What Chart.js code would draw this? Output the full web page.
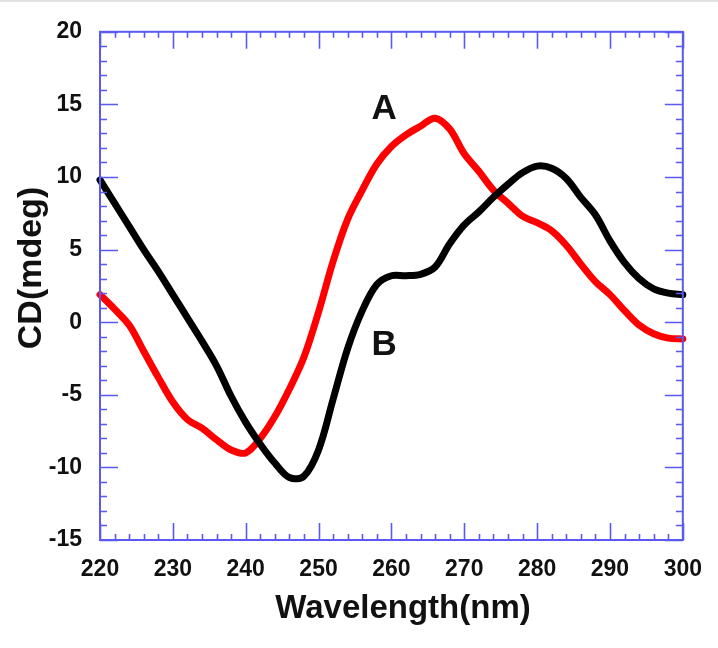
<!DOCTYPE html>
<html>
<head>
<meta charset="utf-8">
<script src="https://cdn.jsdelivr.net/npm/chart.js@4"></script>
<style>
    html, body { margin: 0; padding: 0; background: #fff; }
    #wrap { width: 718px; height: 648px; }
</style>
</head>
<body>
<div id="wrap"><canvas id="cdChart" width="718" height="648"></canvas></div>
<script>
// wavelength (nm), 2 nm steps
const wavelength = [220, 222, 224, 226, 228, 230, 232, 234, 236, 238,
                    240, 242, 244, 246, 248, 250, 252, 254, 256, 258,
                    260, 262, 264, 266, 268, 270, 272, 274, 276, 278,
                    280, 282, 284, 286, 288, 290, 292, 294, 296, 298, 300];

// curve A (red), CD in mdeg
const cdA = [1.9, 0.9, -0.2, -2.0, -3.8, -5.5, -6.7, -7.3, -8.1, -8.8,
             -9.0, -8.0, -6.5, -4.6, -2.4, 0.7, 4.2, 7.1, 9.1, 10.9,
             12.1, 12.9, 13.5, 14.05, 13.3, 11.6, 10.4, 9.1, 8.2, 7.3,
             6.85, 6.3, 5.3, 4.0, 2.8, 1.9, 0.8, -0.2, -0.8, -1.1, -1.15];

// curve B (black)
const cdB = [9.8, 8.2, 6.6, 5.0, 3.5, 1.9, 0.3, -1.3, -3.0, -5.1,
             -6.9, -8.4, -9.7, -10.7, -10.6, -8.8, -5.3, -1.8, 0.8, 2.6,
             3.2, 3.2, 3.3, 3.8, 5.4, 6.7, 7.6, 8.6, 9.5, 10.3,
             10.75, 10.6, 9.9, 8.6, 7.4, 5.6, 4.1, 3.0, 2.3, 2.0, 1.9];

// curve labels: text, wavelength, CD
const curveLabels = [
    { text: "A", x: 259, y: 14.7 },
    { text: "B", x: 259, y: -1.55 },
];

const X_MIN = 220, X_MAX = 300, X_MAJOR = 10, X_MINOR = 2;
const Y_MIN = -15, Y_MAX = 20, Y_MAJOR = 5, Y_MINOR = 1;

const FRAME = "#5a5af0";
const FONT  = "'Liberation Sans', Arial, sans-serif";

// Frame, inward ticks on all four sides, titles and A/B labels
const framePlugin = {
    id: "frame",
    beforeDraw(chart) {
        const ctx = chart.ctx;
        ctx.save();
        ctx.fillStyle = "#fff";
        ctx.fillRect(0, 0, chart.width, chart.height);
        ctx.fillStyle = "#e2e2e2";
        ctx.fillRect(0, 0, chart.width, 2);
        ctx.restore();
    },
    afterDraw(chart) {
        const ctx = chart.ctx;
        const a = chart.chartArea;
        const xs = chart.scales.x;
        const ys = chart.scales.y;
        ctx.save();
        ctx.strokeStyle = FRAME;
        ctx.lineWidth = 1.6;
        ctx.beginPath();
        for (let v = X_MIN; v <= X_MAX; v += X_MINOR) {
            const px = Math.round(xs.getPixelForValue(v)) + 0.5;
            const len = (v % X_MAJOR === 0) ? 17 : 6;
            ctx.moveTo(px, a.bottom); ctx.lineTo(px, a.bottom - len);
            ctx.moveTo(px, a.top);    ctx.lineTo(px, a.top + len);
        }
        for (let v = Y_MIN; v <= Y_MAX; v += Y_MINOR) {
            const py = Math.round(ys.getPixelForValue(v)) + 0.5;
            const len = (v % Y_MAJOR === 0) ? 18 : 7;
            ctx.moveTo(a.left, py);  ctx.lineTo(a.left + len, py);
            ctx.moveTo(a.right, py); ctx.lineTo(a.right - len, py);
        }
        ctx.stroke();
        ctx.lineWidth = 2;
        ctx.strokeRect(a.left, a.top, a.right - a.left, a.bottom - a.top);

        // axis titles
        ctx.fillStyle = "#111";
        ctx.font = "bold 33px " + FONT;
        ctx.textAlign = "center";
        ctx.textBaseline = "middle";
        ctx.fillText("Wavelength(nm)", 403, 609);
        ctx.translate(32, 268);
        ctx.rotate(-Math.PI / 2);
        ctx.font = "bold 34px " + FONT;
        ctx.fillText("CD(mdeg)", 0, 0);
        ctx.restore();

        // A / B labels placed through the scales
        ctx.save();
        ctx.fillStyle = "#111";
        ctx.font = "bold 35px " + FONT;
        ctx.textAlign = "center";
        ctx.textBaseline = "middle";
        curveLabels.forEach(l => {
            ctx.fillText(l.text, xs.getPixelForValue(l.x), ys.getPixelForValue(l.y) + 1);
        });
        ctx.restore();
    },
};

const ctx = document.getElementById("cdChart").getContext("2d");
new Chart(ctx, {
    type: "line",
    data: {
        labels: wavelength,
        datasets: [
            {
                label: "B",
                data: wavelength.map((w, i) => ({ x: w, y: cdB[i] })),
                borderColor: "#000",
                borderWidth: 7,
                borderCapStyle: "round",
                borderJoinStyle: "round",
                pointRadius: 0,
                tension: 0.35,
                clip: false,
            },
            {
                label: "A",
                data: wavelength.map((w, i) => ({ x: w, y: cdA[i] })),
                borderColor: "#ff0000",
                borderWidth: 7,
                borderCapStyle: "round",
                borderJoinStyle: "round",
                pointRadius: 0,
                tension: 0.35,
                clip: false,
            },
        ],
    },
    options: {
        responsive: false,
        animation: false,
        devicePixelRatio: 1,
        layout: { padding: { top: 22, right: 35, left: 0, bottom: 0 } },
        plugins: { legend: { display: false }, tooltip: { enabled: false } },
        scales: {
            x: {
                type: "linear",
                min: X_MIN,
                max: X_MAX,
                afterFit: s => { s.height = 108; },
                border: { display: false },
                grid: { display: false, drawTicks: false },
                ticks: {
                    stepSize: X_MAJOR,
                    padding: 16,
                    color: "#111",
                    font: { family: FONT, size: 23, weight: "bold" },
                    maxRotation: 0,
                },
            },
            y: {
                min: Y_MIN,
                max: Y_MAX,
                afterFit: s => { s.width = 100; },
                border: { display: false },
                grid: { display: false, drawTicks: false },
                ticks: {
                    stepSize: Y_MAJOR,
                    padding: 18,
                    color: "#111",
                    font: { family: FONT, size: 23, weight: "bold" },
                },
            },
        },
    },
    plugins: [framePlugin],
});
</script>
</body>
</html>
